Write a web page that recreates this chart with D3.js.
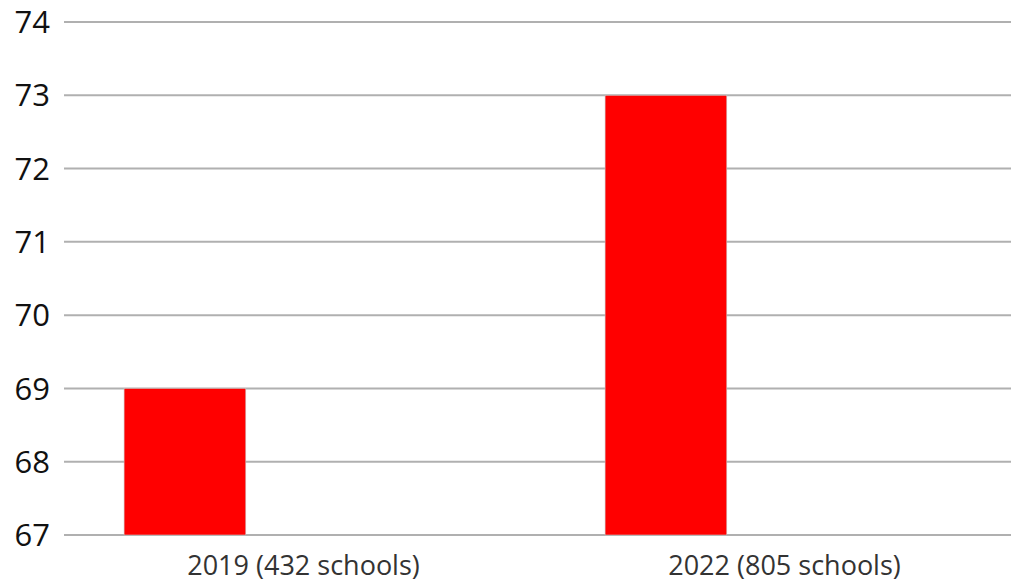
<!DOCTYPE html>
<html>
<head>
<meta charset="utf-8">
<script src="https://cdn.jsdelivr.net/npm/d3@7"></script>
<style>
  html, body { margin: 0; padding: 0; background: white; }
</style>
</head>
<body>
<script>
// chart data
const categories = ["2019 (432 schools)", "2022 (805 schools)"];
const values = [69, 73];
const yTicks = [67, 68, 69, 70, 71, 72, 73, 74];

const width = 1011, height = 583;
const plotLeft = 63, plotRight = 1025, plotTop = 22, plotBottom = 535;

let svg = d3.select("body").append("svg")
            .attr("width", width)
            .attr("height", height);

svg.append("rect")
   .attr("width", "100%")
   .attr("height", "100%")
   .attr("fill", "white");

let x = d3.scaleBand()
          .domain(categories)
          .range([plotLeft, plotRight]);

let y = d3.scaleLinear()
          .domain([67, 74])
          .range([plotBottom, plotTop]);

// gridlines
svg.append("g")
   .selectAll("line")
   .data(yTicks)
   .join("line")
   .attr("x1", plotLeft + 1)
   .attr("x2", plotRight)
   .attr("y1", d => y(d))
   .attr("y2", d => y(d))
   .attr("stroke", "#b0b0b0")
   .attr("stroke-width", 2);

// y tick labels
svg.append("g")
   .selectAll("text")
   .data(yTicks)
   .join("text")
   .attr("x", plotLeft - 13)
   .attr("y", d => y(d))
   .attr("dy", "0.36em")
   .attr("text-anchor", "end")
   .attr("font-family", "Open Sans, sans-serif")
   .attr("font-size", "31px")
   .attr("fill", "#111")
   .text(d => d);

// bars
svg.append("g")
   .selectAll("rect")
   .data(values)
   .join("rect")
   .attr("x", (d, i) => x(categories[i]) + x.bandwidth() * 0.127)
   .attr("width", x.bandwidth() * 0.253)
   .attr("y", d => y(d))
   .attr("height", d => y(67) - y(d))
   .attr("fill", "#ff0000")
   .attr("stroke", "#c8c8c8")
   .attr("stroke-width", 0.6);

// x labels
svg.append("g")
   .selectAll("text")
   .data(categories)
   .join("text")
   .attr("x", d => x(d) + x.bandwidth() / 2)
   .attr("y", 575)
   .attr("text-anchor", "middle")
   .attr("font-family", "Open Sans, sans-serif")
   .attr("font-size", "27px")
   .attr("fill", "#333")
   .text(d => d);
</script>
</body>
</html>
